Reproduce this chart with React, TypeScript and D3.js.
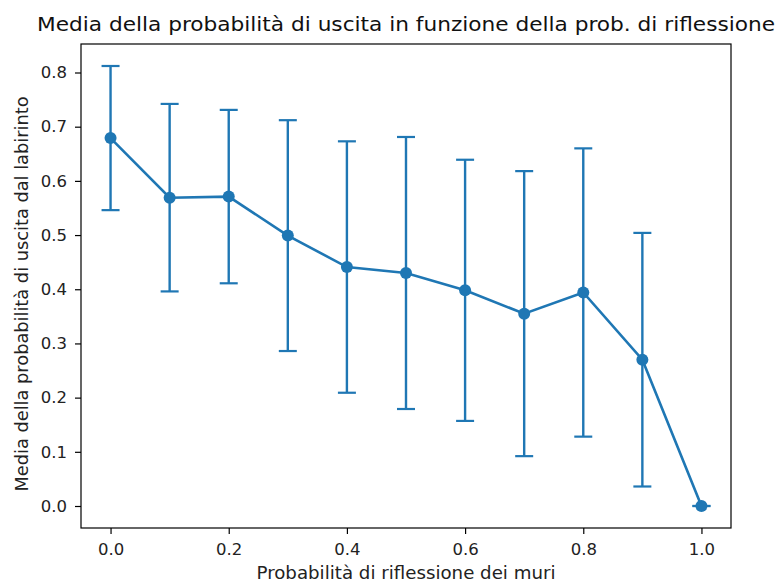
import { useEffect, useRef } from "react";
import * as d3 from "d3";

const reflectionProb = [0.0, 0.1, 0.2, 0.3, 0.4, 0.5, 0.6, 0.7, 0.8, 0.9, 1.0];
const meanExit = [0.679, 0.569, 0.571, 0.499, 0.441, 0.43, 0.398, 0.355, 0.394, 0.27, 0.0];
const stdExit = [0.133, 0.173, 0.16, 0.213, 0.232, 0.251, 0.241, 0.263, 0.266, 0.234, 0.0];
const xTicks = [0.0, 0.2, 0.4, 0.6, 0.8, 1.0];
const yTicks = [0.0, 0.1, 0.2, 0.3, 0.4, 0.5, 0.6, 0.7, 0.8];

const TITLE = "Media della probabilità di uscita in funzione della prob. di riflessione";
const X_LABEL = "Probabilità di riflessione dei muri";
const Y_LABEL = "Media della probabilità di uscita dal labirinto";

const WIDTH = 779;
const HEIGHT = 584;
const BLUE = "#1f77b4";
const FONT = "DejaVu Sans, sans-serif";

function Chart() {
  const svgRef = useRef<SVGSVGElement>(null);

  useEffect(() => {
    if (!svgRef.current) return;
    const svg = d3.select(svgRef.current);
    svg.selectAll("*").remove();

    const margin = { top: 44, right: 48, bottom: 56, left: 81 };
    const innerWidth = WIDTH - margin.left - margin.right;
    const innerHeight = HEIGHT - margin.top - margin.bottom;

    // matplotlib-like 5% margins around the data
    const xPad = 0.05;
    const lo = d3.min(meanExit.map((m, i) => m - stdExit[i])) as number;
    const hi = d3.max(meanExit.map((m, i) => m + stdExit[i])) as number;
    const yPad = (hi - lo) * 0.05;

    const x = d3.scaleLinear().domain([0 - xPad, 1 + xPad]).range([0, innerWidth]);
    const y = d3.scaleLinear().domain([lo - yPad, hi + yPad]).range([innerHeight, 0]);

    const g = svg.append("g").attr("transform", `translate(${margin.left},${margin.top})`);

    // Axes
    const xAxis = g
      .append("g")
      .attr("transform", `translate(0,${innerHeight})`)
      .call(d3.axisBottom(x).tickValues(xTicks).tickFormat(d3.format(".1f")).tickSize(6).tickPadding(9));
    const yAxis = g
      .append("g")
      .call(d3.axisLeft(y).tickValues(yTicks).tickFormat(d3.format(".1f")).tickSize(6).tickPadding(8));

    [xAxis, yAxis].forEach((a) => {
      a.select(".domain").remove();
      a.selectAll(".tick line").attr("stroke", "#000").attr("stroke-width", 1.2);
      a.selectAll("text")
        .style("font-family", FONT)
        .style("font-size", "16.5px")
        .attr("fill", "#222");
    });

    g.append("rect")
      .attr("width", innerWidth)
      .attr("height", innerHeight)
      .attr("fill", "none")
      .attr("stroke", "#000")
      .attr("stroke-width", 1.2);

    // Error bars
    const bars = g
      .append("g")
      .selectAll("g")
      .data(reflectionProb.map((p, i) => ({ p, m: meanExit[i], s: stdExit[i] })))
      .join("g");

    bars
      .append("line")
      .attr("x1", (d) => x(d.p))
      .attr("x2", (d) => x(d.p))
      .attr("y1", (d) => y(d.m - d.s))
      .attr("y2", (d) => y(d.m + d.s))
      .attr("stroke", BLUE)
      .attr("stroke-width", 2.4);

    [-1, 1].forEach((sign) => {
      bars
        .append("line")
        .attr("x1", (d) => x(d.p) - 9)
        .attr("x2", (d) => x(d.p) + 9)
        .attr("y1", (d) => y(d.m + sign * d.s))
        .attr("y2", (d) => y(d.m + sign * d.s))
        .attr("stroke", BLUE)
        .attr("stroke-width", 2.2);
    });

    // Mean line
    const line = d3
      .line<number>()
      .x((_, i) => x(reflectionProb[i]))
      .y((d) => y(d));

    g.append("path")
      .datum(meanExit)
      .attr("fill", "none")
      .attr("stroke", BLUE)
      .attr("stroke-width", 2.6)
      .attr("d", line);

    g.append("g")
      .selectAll("circle")
      .data(meanExit)
      .join("circle")
      .attr("cx", (_, i) => x(reflectionProb[i]))
      .attr("cy", (d) => y(d))
      .attr("r", 6)
      .attr("fill", BLUE);

    // Labels
    svg
      .append("text")
      .attr("x", margin.left + innerWidth / 2)
      .attr("y", 31)
      .attr("text-anchor", "middle")
      .attr("textLength", 738)
      .attr("lengthAdjust", "spacingAndGlyphs")
      .style("font-family", FONT)
      .style("font-size", "20px")
      .attr("fill", "#111")
      .text(TITLE);

    svg
      .append("text")
      .attr("x", margin.left + innerWidth / 2)
      .attr("y", 579)
      .attr("text-anchor", "middle")
      .attr("textLength", 299)
      .attr("lengthAdjust", "spacingAndGlyphs")
      .style("font-family", FONT)
      .style("font-size", "17.5px")
      .attr("fill", "#222")
      .text(X_LABEL);

    svg
      .append("text")
      .attr("transform", `translate(28,${margin.top + innerHeight / 2 + 8}) rotate(-90)`)
      .attr("text-anchor", "middle")
      .attr("textLength", 395)
      .attr("lengthAdjust", "spacingAndGlyphs")
      .style("font-family", FONT)
      .style("font-size", "17.5px")
      .attr("fill", "#222")
      .text(Y_LABEL);
  }, []);

  return (
    <svg
      ref={svgRef}
      width={WIDTH}
      height={HEIGHT}
      style={{ position: "absolute", left: 0, top: 0, background: "#fff" }}
    />
  );
}

export default function App() {
  return <Chart />;
}
